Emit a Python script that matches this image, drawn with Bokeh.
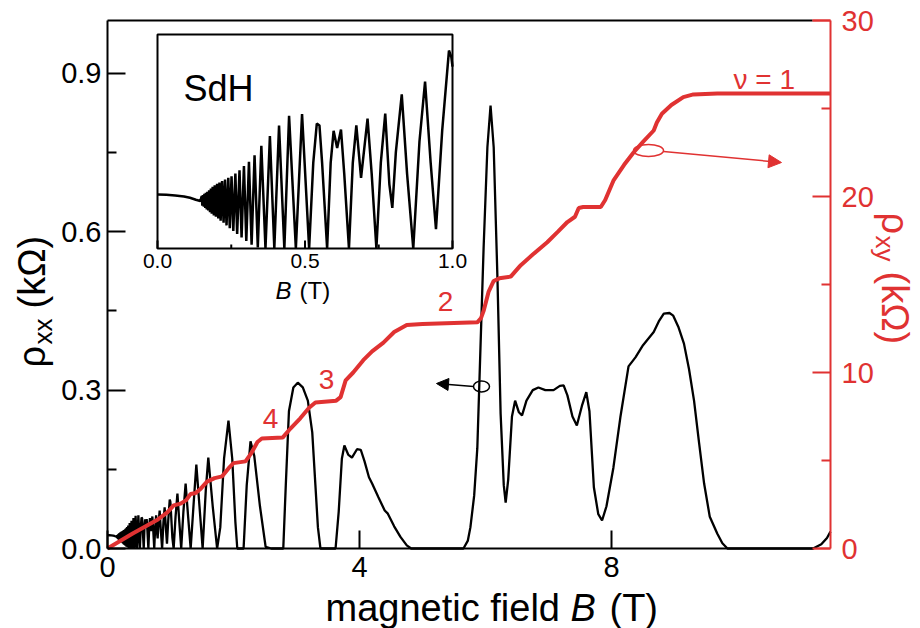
import numpy as np
from bokeh.plotting import figure
from bokeh.models import (Range1d, LinearAxis, FixedTicker, PrintfTickFormatter,
                          Label, Arrow, NormalHead)
from bokeh.embed import file_html
from bokeh.resources import INLINE

RED = "#e03232"
FONT = "Liberation Sans"

# ---------------- data ----------------
# longitudinal resistivity rho_xx (kOhm) vs B (T)
B_xx = [0.000, 0.030, 0.060, 0.090, 0.110, 0.130, 0.145,
        0.150, 0.152, 0.154, 0.157, 0.159, 0.162, 0.164, 0.167, 0.169, 0.172,
        0.175, 0.178, 0.181, 0.184, 0.187, 0.191, 0.194, 0.198, 0.202, 0.206,
        0.210, 0.214, 0.219, 0.224, 0.229, 0.234, 0.240, 0.245, 0.251, 0.257,
        0.264, 0.270, 0.278, 0.285, 0.293, 0.301, 0.310, 0.319, 0.329, 0.340,
        0.352, 0.366, 0.381, 0.396, 0.412, 0.430, 0.446, 0.469, 0.490, 0.514,
        0.528, 0.540, 0.549, 0.558, 0.575, 0.587, 0.597, 0.609, 0.622, 0.633,
        0.649, 0.662, 0.674, 0.690, 0.712, 0.726, 0.742, 0.757, 0.772, 0.786,
        0.796, 0.808, 0.828, 0.846, 0.867, 0.888, 0.907, 0.926, 0.944, 0.965,
        0.988, 0.996, 1.000,
        1.030, 1.050, 1.080, 1.110, 1.140, 1.170, 1.205, 1.240, 1.280, 1.320,
        1.370, 1.410, 1.460, 1.510, 1.560, 1.600, 1.670, 1.740, 1.790, 1.850,
        1.920, 1.980, 2.030, 2.060, 2.160, 2.210, 2.270, 2.330, 2.420, 2.510,
        2.600, 2.700, 2.790, 2.830, 2.880, 2.950, 3.020, 3.100, 3.180, 3.250,
        3.300, 3.340, 3.380, 3.620, 3.670, 3.720, 3.760, 3.820, 3.880, 3.960,
        4.020, 4.080, 4.150, 4.200, 4.300, 4.400, 4.450, 4.550, 4.650, 4.750,
        4.820, 5.650, 5.720, 5.760, 5.820, 5.870, 5.920, 5.970, 6.030, 6.080,
        6.130, 6.190, 6.240, 6.290, 6.320, 6.360, 6.420, 6.470, 6.530, 6.580,
        6.650, 6.750, 6.840, 6.950, 7.080, 7.180, 7.240, 7.300, 7.380, 7.450,
        7.530, 7.600, 7.650, 7.720, 7.790, 7.850, 7.920, 8.030, 8.140, 8.270,
        8.380, 8.500, 8.670, 8.750, 8.830, 8.920, 8.980, 9.060, 9.150, 9.230,
        9.310, 9.390, 9.470, 9.560, 9.680, 9.760, 9.840, 11.200, 11.330, 11.420,
        11.476]
rho_xx = [0.0252, 0.0251, 0.0248, 0.0243, 0.0237, 0.0228, 0.0222,
          0.0245, 0.0200, 0.0250, 0.0195, 0.0255, 0.0190, 0.0260, 0.0183, 0.0265, 0.0178,
          0.0272, 0.0170, 0.0280, 0.0163, 0.0288, 0.0155, 0.0295, 0.0148, 0.0302, 0.0140,
          0.0308, 0.0130, 0.0315, 0.0120, 0.0322, 0.0108, 0.0330, 0.0095, 0.0338, 0.0082,
          0.0350, 0.0068, 0.0365, 0.0052, 0.0385, 0.0035, 0.0405, 0.0018, 0.0435, 0.0005,
          0.0480, 0.0000, 0.0525, 0.0000, 0.0575, 0.0000, 0.0620, 0.0000, 0.0628, 0.0000,
          0.0400, 0.0584, 0.0575, 0.0400, 0.0000, 0.0400, 0.0550, 0.0470, 0.0556, 0.0350,
          0.0000, 0.0400, 0.0575, 0.0330, 0.0607, 0.0350, 0.0000, 0.0400, 0.0630, 0.0300,
          0.0190, 0.0450, 0.0720, 0.0350, 0.0000, 0.0500, 0.0780, 0.0400, 0.0090, 0.0550,
          0.0925, 0.0895, 0.0850,
          0.020, 0.000, 0.060, 0.104, 0.050, 0.000, 0.070, 0.123, 0.060, 0.000,
          0.090, 0.159, 0.080, 0.000, 0.110, 0.172, 0.080, 0.000, 0.040, 0.170,
          0.242, 0.170, 0.050, 0.000, 0.000, 0.120, 0.203, 0.175, 0.080, 0.003,
          0.000, 0.000, 0.000, 0.120, 0.260, 0.305, 0.314, 0.305, 0.280, 0.220,
          0.120, 0.040, 0.000, 0.000, 0.070, 0.170, 0.195, 0.178, 0.172, 0.188,
          0.187, 0.165, 0.135, 0.123, 0.097, 0.072, 0.066, 0.042, 0.022, 0.006,
          0.000, 0.000, 0.015, 0.040, 0.100, 0.190, 0.380, 0.570, 0.760, 0.839,
          0.760, 0.510, 0.255, 0.120, 0.087, 0.130, 0.250, 0.280, 0.258, 0.252,
          0.280, 0.300, 0.305, 0.300, 0.300, 0.308, 0.309, 0.290, 0.250, 0.233,
          0.270, 0.296, 0.260, 0.116, 0.065, 0.053, 0.080, 0.153, 0.248, 0.345,
          0.362, 0.385, 0.410, 0.430, 0.445, 0.446, 0.441, 0.420, 0.388, 0.340,
          0.280, 0.200, 0.123, 0.060, 0.028, 0.010, 0.000, 0.000, 0.008, 0.020,
          0.032]

# Hall resistivity rho_xy (kOhm) vs B (T)
B_xy = [0.00, 0.40, 0.80, 0.95, 1.05, 1.16, 1.25, 1.32, 1.40, 1.48, 1.58, 1.70,
        1.82, 1.92, 2.00, 2.19, 2.28, 2.38, 2.45, 2.78, 2.90, 3.06, 3.20, 3.30,
        3.63, 3.70, 3.78, 3.90, 4.06, 4.20, 4.38, 4.55, 4.75, 5.00, 5.87, 5.93,
        5.97, 6.05, 6.13, 6.22, 6.40, 6.56, 6.75, 6.98, 7.15, 7.30, 7.42, 7.48,
        7.55, 7.83, 7.90, 8.03, 8.20, 8.35, 8.50, 8.67, 8.72, 8.80, 8.95, 9.14,
        9.30, 9.68, 11.476]
rho_xy = [0.00, 0.85, 1.65, 2.05, 2.45, 2.55, 2.75, 3.10, 3.15, 3.40, 3.80, 4.00,
          4.10, 4.55, 4.85, 4.95, 5.40, 6.05, 6.25, 6.30, 6.80, 7.40, 8.00, 8.30,
          8.40, 8.60, 9.55, 10.00, 10.70, 11.20, 11.70, 12.30, 12.70, 12.75, 12.85, 13.10,
          13.50, 14.60, 15.20, 15.35, 15.45, 16.10, 16.70, 17.40, 18.00, 18.55, 18.85, 19.35,
          19.40, 19.40, 19.80, 20.90, 21.80, 22.50, 23.10, 23.75, 24.20, 24.70, 25.20, 25.65,
          25.80, 25.85, 25.85]

x_ticks = [0, 4, 8]
left_ticks = [0.0, 0.3, 0.6, 0.9]
left_minor = [0.15, 0.45, 0.75]
right_ticks = [0, 10, 20, 30]
right_minor = [5, 15, 25]
inset_ticks = [0.0, 0.5, 1.0]
inset_tick_labels = ["0.0", "0.5", "1.0"]
inset_minor = [0.25, 0.75]

# ---------------- geometry (pixels of the 920x628 page) ----------------
W, H = 920, 628
FR_L, FR_R, FR_T, FR_B = 107, 830, 20, 548
X_MAX, Y_MAX, Y2_MAX = 11.476, 1.0, 30.0
IN_L, IN_R, IN_T, IN_B = 157, 452, 34, 248
IX0, IX1, IY0, IY1 = 0.0, 1.0, 0.0, 0.1

sx = (FR_R - FR_L) / X_MAX
sy = (FR_B - FR_T) / Y_MAX
sy2 = (FR_B - FR_T) / Y2_MAX
isx = (IN_R - IN_L) / (IX1 - IX0)
isy = (IN_B - IN_T) / (IY1 - IY0)

def dx(px):
    return (px - FR_L) / sx

def dy(py):
    return (FR_B - py) / sy

# the plotting frame covers the whole page; axes are pinned with fixed_location
p = figure(width=W, height=H, output_backend="svg", toolbar_location=None,
           x_range=Range1d(dx(0), dx(W)), y_range=Range1d(dy(H), dy(0)),
           min_border=0, x_axis_type=None, y_axis_type=None)
p.outline_line_color = None
p.grid.visible = False
p.background_fill_color = "white"
p.border_fill_color = "white"

p.extra_y_ranges = {
    "right": Range1d(-(H - FR_B) / sy2, Y2_MAX + FR_T / sy2),
    "iy": Range1d(IY0 - (H - IN_B) / isy, IY1 + IN_T / isy),
}
p.extra_x_ranges = {
    "ix": Range1d(IX0 - IN_L / isx, IX1 + (W - IN_R) / isx),
}

def style_axis(ax, color, ticks, minor, fmt):
    ax.ticker = FixedTicker(ticks=ticks, minor_ticks=minor)
    ax.formatter = PrintfTickFormatter(format=fmt)
    ax.axis_line_color = color
    ax.axis_line_width = 2
    ax.major_tick_line_color = color
    ax.major_tick_line_width = 2
    ax.minor_tick_line_color = color
    ax.minor_tick_line_width = 2
    ax.major_tick_in = 18
    ax.major_tick_out = 0
    ax.minor_tick_in = 9
    ax.minor_tick_out = 0
    ax.major_label_text_font = FONT
    ax.major_label_text_font_size = "29px"
    ax.major_label_text_color = color

xb = LinearAxis(fixed_location=0.0, bounds=(0.0, dx(813)))
style_axis(xb, "black", x_ticks, [], "%d")
xb.major_label_standoff = 8
p.add_layout(xb, "below")

yl = LinearAxis(fixed_location=0.0, bounds=(0.0, Y_MAX))
style_axis(yl, "black", left_ticks, left_minor, "%.1f")
yl.major_label_standoff = 6
p.add_layout(yl, "left")

top = LinearAxis(fixed_location=Y_MAX, bounds=(0.0, dx(812)),
                 ticker=FixedTicker(ticks=[]), major_label_text_font_size="0px",
                 axis_line_color="black", axis_line_width=2,
                 major_tick_line_color=None, minor_tick_line_color=None)
p.add_layout(top, "above")

yr = LinearAxis(y_range_name="right", fixed_location=X_MAX, bounds=(0.0, Y2_MAX))
style_axis(yr, RED, right_ticks, right_minor, "%d")
yr.major_label_standoff = 11
p.add_layout(yr, "right")

# short red ends of the frame next to the right axis
p.segment(x0=[dx(812), dx(813)], y0=[Y_MAX, 0.0], x1=[X_MAX, X_MAX], y1=[Y_MAX, 0.0],
          line_color=RED, line_width=2)

# ---------------- main curves ----------------
p.line(B_xx, rho_xx, line_color="black", line_width=2.3)
p.line(B_xy, rho_xy, line_color=RED, line_width=4, y_range_name="right")

# ---------------- inset ----------------
bx = np.array(B_xx)
rx = np.array(rho_xx)
m = bx <= IX1
p.quad(left=[IX0], right=[IX1], bottom=[IY0], top=[IY1], x_range_name="ix",
       y_range_name="iy", fill_color="white", line_color="black", line_width=2)
p.line(bx[m], rx[m], line_color="black", line_width=2.5, x_range_name="ix",
       y_range_name="iy")
p.segment(x0=inset_ticks, y0=[IY0] * 3, x1=inset_ticks, y1=[IY0 + 8 / isy] * 3,
          x_range_name="ix", y_range_name="iy", line_color="black", line_width=2)
p.segment(x0=inset_minor, y0=[IY0] * 2, x1=inset_minor, y1=[IY0 + 4 / isy] * 2,
          x_range_name="ix", y_range_name="iy", line_color="black", line_width=2)

TOP_K = 0.76  # distance from text top anchor to baseline, in em

def lab(text, px, py, size, color="black", angle=0.0, style="normal",
        align="left"):
    """px, py: start (or centre) of the text on its baseline, page pixels."""
    ax_, ay_ = px, py
    if angle == 0.0:
        ay_ = py - TOP_K * size
    elif angle > 0:
        ax_ = px - TOP_K * size
    else:
        ax_ = px + TOP_K * size
    p.add_layout(Label(x=dx(ax_), y=dy(ay_), text=text, text_font=FONT,
                       text_font_size=f"{size}px", text_color=color, angle=angle,
                       text_align=align, text_baseline="top",
                       text_font_style=style))

for t, lbl in zip(inset_ticks, inset_tick_labels):
    lab(lbl, IN_L + (t - IX0) * isx, 269, 21, align="center")
lab("B", 275, 295, 24, style="italic")
lab("(T)", 299, 295, 24)
lab("SdH", 183, 95, 36)

# ---------------- axis titles ----------------
lab("magnetic field", 325, 615, 38)
lab("B", 570, 615, 38, style="italic")
lab("(T)", 609, 615, 38)

lab("\u03c1", 39, 367, 38, angle=np.pi / 2)
lab("xx", 47, 344, 26, angle=np.pi / 2)
lab("(k\u03a9)", 39, 308, 38, angle=np.pi / 2)

lab("\u03c1", 887, 212, 38, color=RED, angle=-np.pi / 2)
lab("xy", 880, 235, 26, color=RED, angle=-np.pi / 2)
lab("(k\u03a9)", 887, 271, 38, color=RED, angle=-np.pi / 2)

# ---------------- annotations ----------------
lab("4", 270, 430, 28, color=RED, align="center")
lab("3", 326, 391, 28, color=RED, align="center")
lab("2", 445, 313, 28, color=RED, align="center")
lab("\u03bd = 1", 733, 85, 28, color=RED)

p.ellipse(x=[dx(648)], y=[dy(150)], width=30, height=12, width_units="screen",
          height_units="screen", fill_color=None, line_color=RED, line_width=1.5)
p.add_layout(Arrow(end=NormalHead(size=13, fill_color=RED, line_color=RED),
                   x_start=dx(663), y_start=dy(151), x_end=dx(781), y_end=dy(162),
                   line_color=RED, line_width=1.5))

p.ellipse(x=[dx(481)], y=[dy(386)], width=16, height=11, width_units="screen",
          height_units="screen", fill_color=None, line_color="black", line_width=1.5)
p.add_layout(Arrow(end=NormalHead(size=12, fill_color="black", line_color="black"),
                   x_start=dx(473), y_start=dy(386), x_end=dx(436), y_end=dy(383),
                   line_color="black", line_width=1.5))

open("out.html", "w").write(file_html(p, INLINE))
